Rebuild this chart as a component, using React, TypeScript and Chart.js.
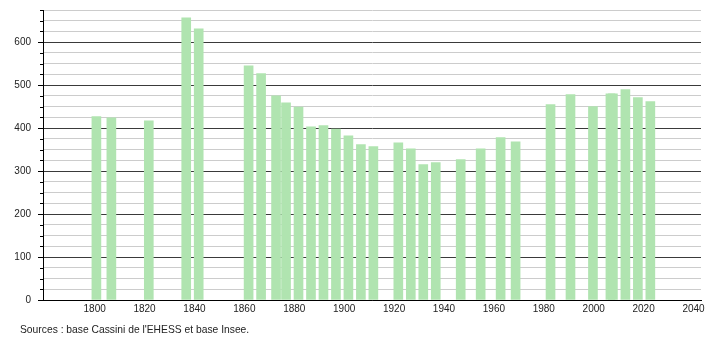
import React, { useEffect, useRef } from 'react';
import { Chart, registerables } from 'chart.js';

Chart.register(...registerables);

// Census years and population
const years = [
  1800, 1806, 1821, 1836, 1841, 1861, 1866, 1872, 1876, 1881, 1886, 1891, 1896,
  1901, 1906, 1911, 1921, 1926, 1931, 1936, 1946, 1954, 1962, 1968, 1982, 1990,
  1999, 2006, 2007, 2012, 2017, 2022,
];
const population = [
  427, 424, 417, 657, 631, 545, 527, 475, 459, 449, 403, 406, 398,
  382, 362, 357, 366, 352, 315, 320, 327, 352, 378, 368, 455, 478,
  450, 480, 480, 490, 471, 462,
];
const xTickYears = [1800, 1820, 1840, 1860, 1880, 1900, 1920, 1940, 1960, 1980, 2000, 2020, 2040];
const yTickLabels = [0, 100, 200, 300, 400, 500, 600];
const sourceText = "Sources : base Cassini de l'EHESS et base Insee.";

const X_MIN = 1779.3;
const X_MAX = 2043;
const Y_MAX = 675;
const BAR_SHIFT = 0.7; // bars sit slightly right of the year mark in the reference

const FONT = 'Liberation Sans, Arial, Helvetica, sans-serif';

const yTickMarks = {
  id: 'yTickMarks',
  afterDraw(chart: any) {
    const y = chart.scales.y;
    const ctx = chart.ctx;
    const left = chart.chartArea.left;
    ctx.save();
    ctx.strokeStyle = '#000';
    ctx.lineWidth = 1;
    y.ticks.forEach((t: any) => {
      const py = Math.round(y.getPixelForValue(t.value)) + 0.5;
      const major = yTickLabels.includes(t.value);
      ctx.beginPath();
      ctx.moveTo(left - (major ? 5 : 3), py);
      ctx.lineTo(left, py);
      ctx.stroke();
    });
    ctx.restore();
  },
};

export default function App() {
  const canvasRef = useRef<HTMLCanvasElement | null>(null);

  useEffect(() => {
    document.body.style.margin = '0';
    const canvas = canvasRef.current;
    if (!canvas) return;
    const chart = new Chart(canvas, {
      type: 'bar',
      data: {
        datasets: [
          {
            data: years.map((yr, i) => ({ x: yr + BAR_SHIFT, y: population[i] })),
            backgroundColor: 'rgb(176, 228, 176)',
            borderWidth: 0,
            barThickness: 9,
          },
        ],
      },
      options: {
        animation: false,
        responsive: false,
        devicePixelRatio: 1,
        layout: { padding: { top: 10, right: 9, left: 0, bottom: 0 } },
        plugins: {
          legend: { display: false },
          tooltip: { enabled: false },
          title: { display: false },
        },
        scales: {
          x: {
            type: 'linear',
            min: X_MIN,
            max: X_MAX,
            offset: false,
            z: 1,
            grid: { display: false, drawTicks: false, offset: false },
            border: { display: true, color: '#000', width: 1 },
            afterBuildTicks: (scale: any) => {
              scale.ticks = xTickYears.map((v) => ({ value: v }));
            },
            afterFit: (scale: any) => {
              scale.height = 40;
              scale.paddingLeft = 0;
              scale.paddingRight = 0;
            },
            ticks: {
              autoSkip: false,
              maxRotation: 0,
              padding: 3,
              color: '#222',
              font: { family: FONT, size: 10 },
              callback: (v: any) => String(v),
            },
          },
          y: {
            min: 0,
            max: Y_MAX,
            grid: {
              drawTicks: false,
              color: (ctx: any) =>
                ctx.tick && yTickLabels.includes(ctx.tick.value) ? '#3a3a3a' : '#cccccc',
              lineWidth: 1,
            },
            border: { display: true, color: '#000', width: 1 },
            afterFit: (scale: any) => {
              scale.width = 43;
              scale.paddingTop = 0;
              scale.paddingBottom = 0;
            },
            ticks: {
              stepSize: 25,
              autoSkip: false,
              padding: 12,
              color: '#222',
              font: { family: FONT, size: 10 },
              callback: (v: any) => (yTickLabels.includes(v) ? String(v) : ''),
            },
          },
        },
      },
      plugins: [yTickMarks],
    });
    return () => chart.destroy();
  }, []);

  return (
    <div style={{ position: 'relative', width: 710, height: 340, background: '#fff' }}>
      <canvas ref={canvasRef} width={710} height={340} style={{ display: 'block' }} />
      <div
        style={{
          position: 'absolute',
          left: 20,
          top: 324,
          fontFamily: FONT,
          fontSize: 10.3,
          color: '#222',
          whiteSpace: 'nowrap',
          lineHeight: '12px',
        }}
      >
        {sourceText}
      </div>
    </div>
  );
}
